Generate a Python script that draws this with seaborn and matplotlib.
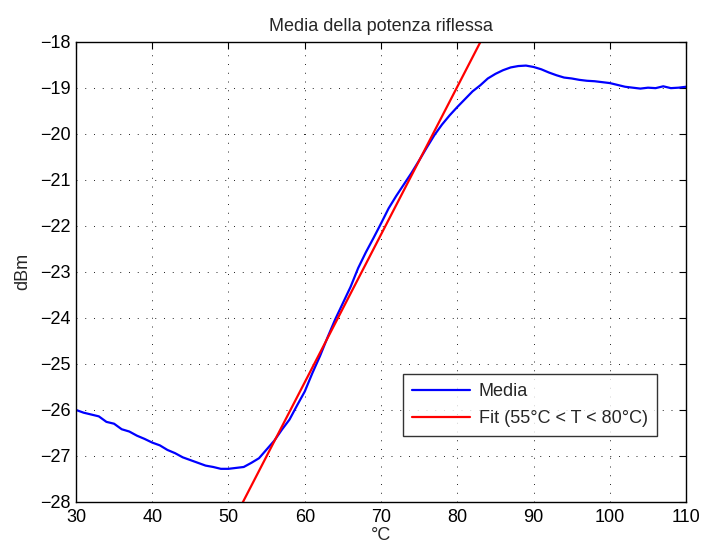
import matplotlib
matplotlib.use("Agg")
import matplotlib.pyplot as plt
import numpy as np
import pandas as pd
import seaborn as sns

# Temperature (°C) and mean reflected power (dBm)
temperature = [30, 31, 32, 33, 34, 35, 36, 37, 38, 39,
               40, 41, 42, 43, 44, 45, 46, 47, 48, 49,
               50, 51, 52, 53, 54, 55, 56, 57, 58, 59,
               60, 61, 62, 63, 64, 65, 66, 67, 68, 69,
               70, 71, 72, 73, 74, 75, 76, 77, 78, 79,
               80, 81, 82, 83, 84, 85, 86, 87, 88, 89,
               90, 91, 92, 93, 94, 95, 96, 97, 98, 99,
               100, 101, 102, 103, 104, 105, 106, 107, 108, 109, 110]
power_dbm = [-26.00, -26.06, -26.10, -26.14, -26.26, -26.30, -26.42, -26.47, -26.56, -26.63,
             -26.71, -26.77, -26.87, -26.94, -27.03, -27.09, -27.15, -27.21, -27.24, -27.28,
             -27.28, -27.26, -27.24, -27.15, -27.05, -26.86, -26.67, -26.43, -26.21, -25.90,
             -25.60, -25.20, -24.83, -24.42, -24.03, -23.68, -23.33, -22.92, -22.58, -22.27,
             -21.95, -21.62, -21.35, -21.10, -20.85, -20.58, -20.30, -20.03, -19.80, -19.60,
             -19.42, -19.25, -19.08, -18.95, -18.80, -18.70, -18.62, -18.56, -18.53, -18.52,
             -18.55, -18.60, -18.67, -18.73, -18.78, -18.80, -18.83, -18.85, -18.86, -18.88,
             -18.90, -18.94, -18.98, -19.00, -19.02, -19.00, -19.01, -18.97, -19.01, -19.00, -18.98]

# Linear fit over 55°C < T < 80°C: P = slope * T + intercept
fit_slope = 0.321
fit_intercept = -44.66

x_ticks = [30, 40, 50, 60, 70, 80, 90, 100, 110]
y_ticks = [-28, -27, -26, -25, -24, -23, -22, -21, -20, -19, -18]

sns.set_style("white")
plt.rcParams["font.family"] = ["Liberation Sans", "DejaVu Sans"]
plt.rcParams["axes.unicode_minus"] = True

FS = 13

fig = plt.figure(figsize=(7.03, 5.48), dpi=100)
ax = fig.add_axes([0.108, 0.084, 0.868, 0.840])

df = pd.DataFrame({"T": temperature, "P": power_dbm})
sns.lineplot(data=df, x="T", y="P", ax=ax, color="#0000ff", linewidth=1.6,
             label="Media")

fit_x = np.array([temperature[0], temperature[-1]], dtype=float)
fit_df = pd.DataFrame({"T": fit_x, "P": fit_slope * fit_x + fit_intercept})
sns.lineplot(data=fit_df, x="T", y="P", ax=ax, color="#ff0000", linewidth=1.6,
             label="Fit (55°C < T < 80°C)")

ax.set_xlim(30, 110)
ax.set_ylim(-28, -18)
ax.set_xticks(x_ticks)
ax.set_yticks(y_ticks)
ax.set_xticklabels([str(v) for v in x_ticks])
ax.set_yticklabels([str(v).replace("-", "\u2212") for v in y_ticks])

ax.grid(True, color="#222222", linestyle=(0, (1, 8)), linewidth=0.7)
ax.tick_params(direction="in", length=5, width=0.8, top=True, right=True,
               labelsize=FS, colors="black")
ax.tick_params(axis="x", pad=5)
ax.tick_params(axis="y", pad=4)
for s in ax.spines.values():
    s.set_color("black")
    s.set_linewidth(1.0)
    s.set_visible(True)

ax.set_xlabel("°C", fontsize=FS, labelpad=1)
ax.set_ylabel("dBm", fontsize=FS, labelpad=6)
ax.set_title("Media della potenza riflessa", fontsize=FS, pad=8)

leg = ax.legend(loc="lower right", bbox_to_anchor=(0.952, 0.143), fontsize=FS,
                frameon=True, fancybox=False, shadow=False, handlelength=3.2,
                borderpad=0.5, labelspacing=0.55, handletextpad=0.5, borderaxespad=0)
leg.get_frame().set_edgecolor("black")
leg.get_frame().set_linewidth(1.0)

fig.savefig("out.png", dpi=100)
